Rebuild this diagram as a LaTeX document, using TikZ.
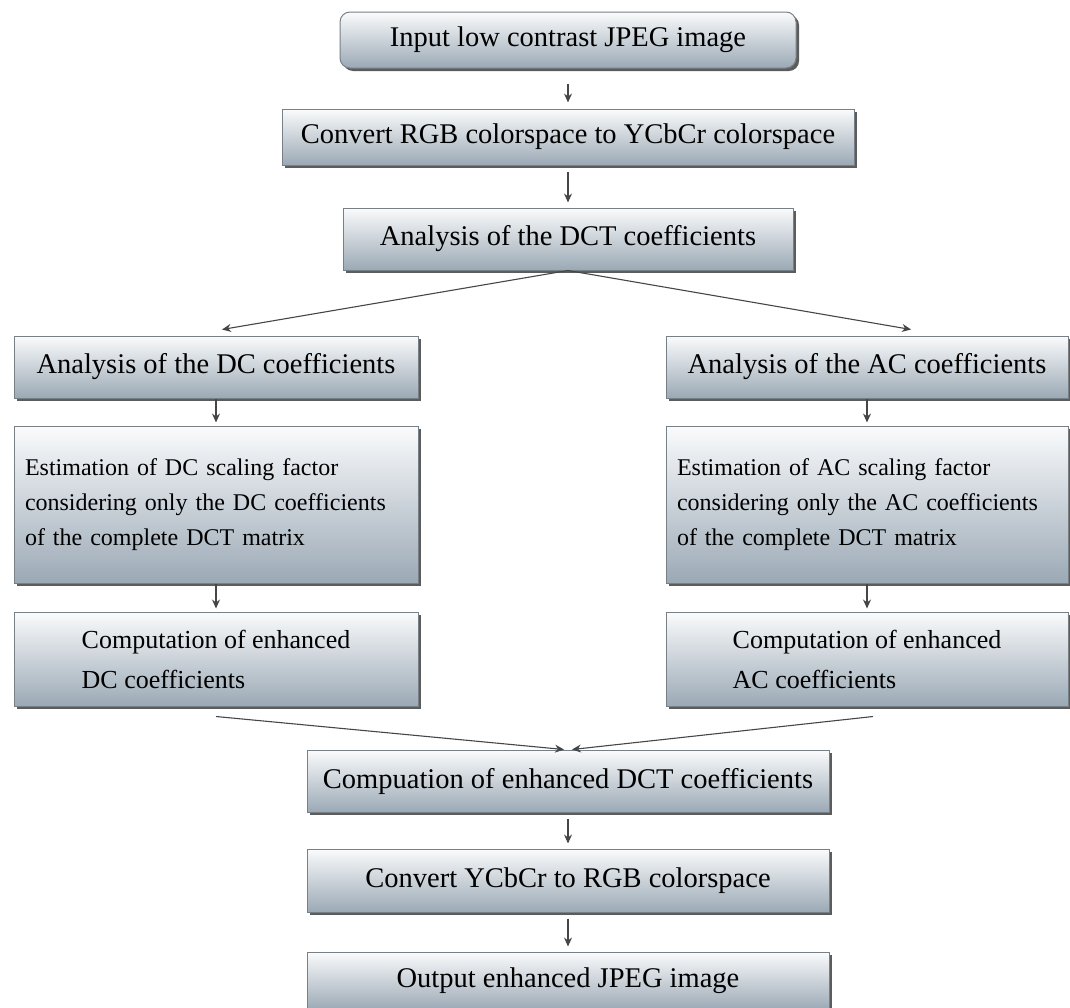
\documentclass[tikz,border=0pt]{standalone}
\usepackage{fontspec}
\setmainfont{Liberation Serif}
\usetikzlibrary{arrows.meta, positioning, shadows}
\definecolor{boxtop}{RGB}{250,251,252}
\definecolor{boxbottom}{RGB}{155,169,181}
\definecolor{boxline}{RGB}{120,128,135}
\definecolor{arrgray}{RGB}{70,70,70}

\begin{document}
\begin{tikzpicture}[
        x=1pt, y=1pt,
        box/.style={rectangle, draw=boxline, line width=1pt, top color=boxtop, bottom color=boxbottom, align=center, inner sep=4pt, font=\fontsize{28.5}{33}\selectfont, drop shadow={shadow xshift=3pt, shadow yshift=-3pt, fill=black!75, opacity=0.85}},
        multi/.style={box, align=left, font=\fontsize{24}{35}\selectfont},
        arr/.style={-{Stealth[length=9pt, width=8pt]}, draw=arrgray, line width=1.1pt},
        flow/.style={arr, shorten <=6pt, shorten >=5pt},
        node distance=42pt
        ]
        \useasboundingbox (0,0) rectangle (1070,-1007);
        % main column, top part
        \node[box, rounded corners=10pt, minimum width=456pt, minimum height=56pt] (input) at (568,-40) {Input low contrast JPEG image};
        \node[box, minimum width=572pt, minimum height=56pt, below=40pt of input] (convert) {Convert RGB colorspace to YCbCr colorspace};
        \node[box, minimum width=450pt, minimum height=62pt, below=of convert] (dct) {Analysis of the DCT coefficients};
        % DC branch
        \node[box, minimum width=404pt, minimum height=62pt, below=65pt of dct, xshift=-352pt] (dcan) {Analysis of the DC coefficients};
        \node[multi, text width=382pt, minimum width=404pt, minimum height=157pt, below=27pt of dcan] (dcest) {Estimation of DC scaling factor\\considering only the DC coefficients\\of the complete DCT matrix};
        \node[multi, font=\fontsize{26}{40}\selectfont, minimum width=404pt, minimum height=94pt, below=28pt of dcest] (dccomp) {Computation of enhanced\\DC coefficients};
        % AC branch
        \node[box, minimum width=402pt, minimum height=62pt, below=65pt of dct, xshift=299pt] (acan) {Analysis of the AC coefficients};
        \node[multi, text width=380pt, minimum width=402pt, minimum height=157pt, below=27pt of acan] (acest) {Estimation of AC scaling factor\\considering only the AC coefficients\\of the complete DCT matrix};
        \node[multi, font=\fontsize{26}{40}\selectfont, minimum width=402pt, minimum height=94pt, below=28pt of acest] (accomp) {Computation of enhanced\\AC coefficients};
        % main column, bottom part
        \coordinate (join) at (dccomp.south -| dct.south);
        \node[box, minimum width=522pt, minimum height=62pt, below=43pt of join] (dctc) {Compuation of enhanced DCT coefficients};
        \node[box, minimum width=522pt, minimum height=63pt, below=36pt of dctc] (ycc) {Convert YCbCr to RGB colorspace};
        \node[box, minimum width=522pt, minimum height=58pt, below=39pt of ycc] (output) {Output enhanced JPEG image};
        \draw[arr, shorten <=15pt, shorten >=6pt] (input) -- (convert);
        \draw[flow] (convert) -- (dct);
        \draw[arr] (dct.south) -- ([shift={(6pt,6pt)}]dcan.north);
        \draw[arr] (dct.south) -- ([shift={(44pt,6pt)}]acan.north);
        \draw[arr, shorten >=3pt] (dcan) -- (dcest);
        \draw[arr, shorten >=3pt] (dcest) -- (dccomp);
        \draw[arr, shorten >=3pt] (acan) -- (acest);
        \draw[arr, shorten >=3pt] (acest) -- (accomp);
        \draw[arr] ([yshift=-10pt]dccomp.south) -- ([xshift=-4pt]dctc.north);
        \draw[arr] ([xshift=6pt, yshift=-10pt]accomp.south) -- ([xshift=4pt]dctc.north);
        \draw[flow] (dctc) -- (ycc);
        \draw[flow] (ycc) -- (output);
    \end{tikzpicture}
\end{document}
